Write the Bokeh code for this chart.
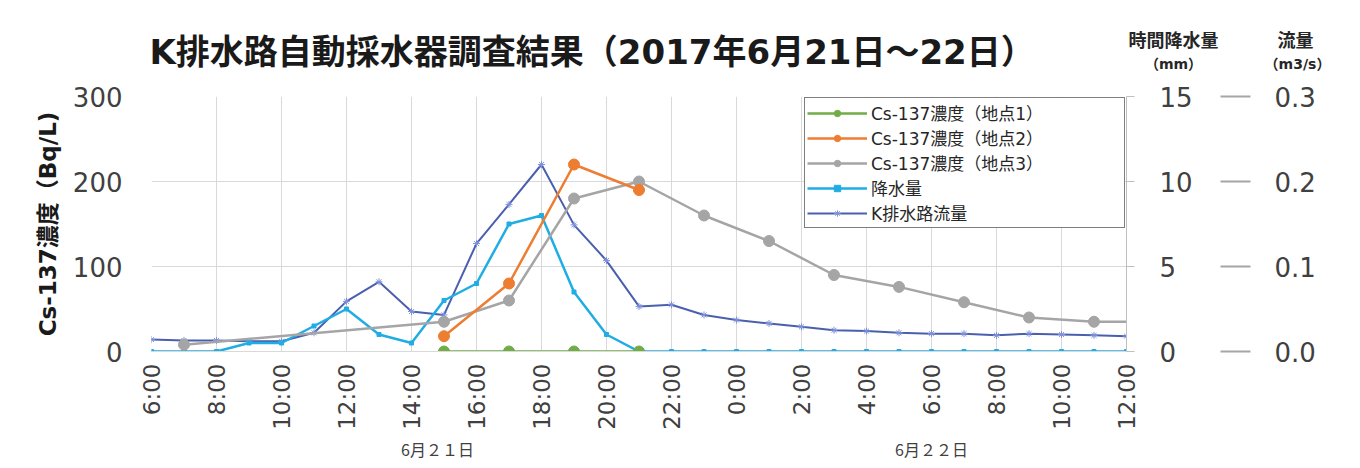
import math
from bokeh.plotting import figure
from bokeh.layouts import column
from bokeh.models import (Range1d, LinearAxis, FixedTicker, Legend, LegendItem,
                          NumeralTickFormatter)
from bokeh.core.properties import value
from bokeh.embed import file_html
from bokeh.resources import INLINE

# ---------------- data ----------------
hours = list(range(6, 37))          # hours since 6/21 0:00 (6:00 .. next day 12:00)
tick_hours = list(range(6, 37, 2))
tick_labels = ["6:00", "8:00", "10:00", "12:00", "14:00", "16:00", "18:00", "20:00",
               "22:00", "0:00", "2:00", "4:00", "6:00", "8:00", "10:00", "12:00"]
date_label_pos = [14.8, 30]
date_labels = ["6月２１日", "6月２２日"]

rain_mm = [0, 0, 0, 0.5, 0.5, 1.5, 2.5, 1.0, 0.5, 3.0, 4.0, 7.5, 8.0, 3.5, 1.0, 0,
           0, 0, 0, 0, 0, 0, 0, 0, 0, 0, 0, 0, 0, 0, 0]
flow_m3s = [0.014, 0.013, 0.013, 0.012, 0.012, 0.022, 0.059, 0.082, 0.047, 0.043,
            0.127, 0.173, 0.220, 0.149, 0.107,
            0.053, 0.055, 0.043, 0.037, 0.033, 0.029, 0.025, 0.024, 0.022, 0.021,
            0.021, 0.019, 0.021, 0.020, 0.019, 0.018]
site_hours = [15, 17, 19, 21]
cs_site1 = [0, 0, 0, 0]
cs_site2 = [18, 80, 220, 190]
site3_hours = [7, 15, 17, 19, 21, 23, 25, 27, 29, 31, 33, 35, 36]
cs_site3 = [8, 35, 60, 180, 200, 160, 130, 90, 76, 58, 40, 35, 35]

left_ticks = [0, 100, 200, 300]
rain_ticks = [0, 5, 10, 15]
flow_ticks = [0, 0.1, 0.2, 0.3]

series_names = ["Cs-137濃度（地点1）", "Cs-137濃度（地点2）", "Cs-137濃度（地点3）",
                "降水量", "K排水路流量"]
title_text = "K排水路自動採水器調査結果（2017年6月21日～22日）"
header_texts = ["時間降水量", "（mm）", "流量", "（m3/s）"]

# ---------------- style ----------------
GREEN = "#70AD47"
ORANGE = "#ED7D31"
GRAY = "#A5A5A5"
CYAN = "#1FADE4"
FLOW = "#4A5FAE"
FLOW_M = "#7F93DD"
GRID = "#d9d9d9"
TXT = "#404040"
MIX = "DejaVu Sans, Noto Sans CJK JP"
JP = "Noto Sans CJK JP"
NUM = "DejaVu Sans"
W = 1356
HDR_H = 72

# ---------------- header strip (title + right-axis headers) ----------------
hdr = figure(width=W, height=HDR_H, x_range=Range1d(0, W), y_range=Range1d(0, HDR_H),
             output_backend="svg", toolbar_location=None, title=None,
             x_axis_location=None, y_axis_location=None,
             min_border_left=0, min_border_right=0, min_border_top=0, min_border_bottom=0)
hdr.frame_align = False
hdr.grid.visible = False
hdr.outline_line_color = None
hdr.text(x=[149], y=[21], text=[title_text], text_font=value(MIX), text_font_style="bold",
         text_font_size="34px", text_color="#1a1a1a", text_align="left",
         text_baseline="middle")
hdr.text(x=[1173, 1295], y=[32, 32], text=[header_texts[0], header_texts[2]],
         text_font=value(MIX), text_font_style="bold", text_font_size="18px",
         text_color="#262626", text_align="center", text_baseline="middle")
hdr.text(x=[1173, 1297], y=[9, 9], text=[header_texts[1], header_texts[3]],
         text_font=value(MIX), text_font_style="bold", text_font_size="14px",
         text_color="#262626", text_align="center", text_baseline="middle")

# ---------------- main chart ----------------
p = figure(width=W, height=392, x_range=Range1d(6, 36), y_range=Range1d(0, 300),
           output_backend="svg", toolbar_location=None, title=None,
           min_border_left=151, min_border_right=230, min_border_top=24,
           min_border_bottom=113)
p.frame_align = False
p.outline_line_color = None

left_axis = p.yaxis[0]
bottom_axis = p.xaxis[0]

left_axis.ticker = FixedTicker(ticks=left_ticks)
left_axis.axis_line_color = None
left_axis.major_tick_line_color = None
left_axis.minor_tick_line_color = None
left_axis.major_label_text_font = NUM
left_axis.major_label_text_font_size = "26px"
left_axis.major_label_text_color = TXT
left_axis.major_label_standoff = 23
left_axis.axis_label = "Cs-137濃度（Bq/L)"
left_axis.axis_label_text_font = MIX
left_axis.axis_label_text_font_style = "bold"
left_axis.axis_label_text_font_size = "23px"
left_axis.axis_label_text_color = "#1a1a1a"
left_axis.axis_label_standoff = 9

bottom_axis.ticker = FixedTicker(ticks=tick_hours)
bottom_axis.major_label_overrides = {h: lab for h, lab in zip(tick_hours, tick_labels)}
bottom_axis.major_label_orientation = math.pi / 2
bottom_axis.axis_line_color = GRID
bottom_axis.major_tick_line_color = None
bottom_axis.minor_tick_line_color = None
bottom_axis.major_label_text_font = NUM
bottom_axis.major_label_text_font_size = "23px"
bottom_axis.major_label_text_color = TXT
bottom_axis.major_label_standoff = 6

p.xgrid.ticker = FixedTicker(ticks=tick_hours)
p.ygrid.ticker = FixedTicker(ticks=left_ticks)
p.xgrid.grid_line_color = GRID
p.ygrid.grid_line_color = GRID

date_axis = LinearAxis(ticker=FixedTicker(ticks=date_label_pos),
                       major_label_overrides={v: t for v, t in zip(date_label_pos, date_labels)})
date_axis.axis_line_color = None
date_axis.major_tick_line_color = None
date_axis.minor_tick_line_color = None
date_axis.major_label_text_font = JP
date_axis.major_label_text_font_size = "16px"
date_axis.major_label_text_color = TXT
date_axis.major_label_standoff = -2
p.add_layout(date_axis, "below")

p.extra_y_ranges = {"rain": Range1d(0, 15), "flow": Range1d(0, 0.3)}
rain_axis = LinearAxis(y_range_name="rain", ticker=FixedTicker(ticks=rain_ticks))
rain_axis.axis_line_color = "#bfbfbf"
rain_axis.major_tick_line_color = "#bfbfbf"
rain_axis.major_tick_out = 8
rain_axis.major_tick_in = 0
rain_axis.minor_tick_line_color = None
rain_axis.major_label_text_font = NUM
rain_axis.major_label_text_font_size = "26px"
rain_axis.major_label_text_color = TXT
rain_axis.major_label_standoff = 25
p.add_layout(rain_axis, "right")

flow_axis = LinearAxis(y_range_name="flow", ticker=FixedTicker(ticks=flow_ticks),
                       formatter=NumeralTickFormatter(format="0.0"))
flow_axis.axis_line_color = None
flow_axis.major_tick_line_color = "#a6a6a6"
flow_axis.major_tick_line_width = 2
flow_axis.major_tick_line_dash = "30 200"
flow_axis.major_tick_out = 55
flow_axis.major_tick_in = 0
flow_axis.minor_tick_line_color = None
flow_axis.major_label_text_font = NUM
flow_axis.major_label_text_font_size = "26px"
flow_axis.major_label_text_color = TXT
flow_axis.major_label_standoff = 24
p.add_layout(flow_axis, "right")

# ---------------- series ----------------
flow_line = p.line(hours, flow_m3s, y_range_name="flow", line_color=FLOW, line_width=2)
flow_pts = p.scatter(hours, flow_m3s, y_range_name="flow", marker="asterisk", size=7,
                     line_color=FLOW_M, line_width=1)
rain_line = p.line(hours, rain_mm, y_range_name="rain", line_color=CYAN, line_width=2.5)
rain_pts = p.scatter(hours, rain_mm, y_range_name="rain", marker="square", size=4,
                     fill_color=CYAN, line_color=CYAN)
s3_line = p.line(site3_hours, cs_site3, line_color=GRAY, line_width=2.5)
s3_pts = p.scatter(site3_hours[:-1], cs_site3[:-1], marker="circle", size=11,
                   fill_color=GRAY, line_color=GRAY)
s2_line = p.line(site_hours, cs_site2, line_color=ORANGE, line_width=2.5)
s2_pts = p.scatter(site_hours, cs_site2, marker="circle", size=11,
                   fill_color=ORANGE, line_color=ORANGE)
s1_line = p.line(site_hours, cs_site1, line_color=GREEN, line_width=2.5)
s1_pts = p.scatter(site_hours, cs_site1, marker="circle", size=11,
                   fill_color=GREEN, line_color=GREEN)

legend = Legend(items=[
    LegendItem(label=series_names[0], renderers=[s1_line, s1_pts]),
    LegendItem(label=series_names[1], renderers=[s2_line, s2_pts]),
    LegendItem(label=series_names[2], renderers=[s3_line, s3_pts]),
    LegendItem(label=series_names[3], renderers=[rain_line, rain_pts]),
    LegendItem(label=series_names[4], renderers=[flow_line, flow_pts]),
], location="top_right")
legend.label_text_font = MIX
legend.label_text_font_size = "17px"
legend.label_text_color = "#262626"
legend.label_height = 16
legend.glyph_height = 16
legend.glyph_width = 60
legend.label_standoff = 4
legend.label_width = 251
legend.spacing = 0
legend.padding = 2
legend.margin = 1
legend.border_line_color = "black"
legend.border_line_width = 1.5
legend.background_fill_color = "white"
legend.background_fill_alpha = 1
p.add_layout(legend)

layout = column(hdr, p, spacing=0)
open("out.html", "w").write(file_html(layout, INLINE))
